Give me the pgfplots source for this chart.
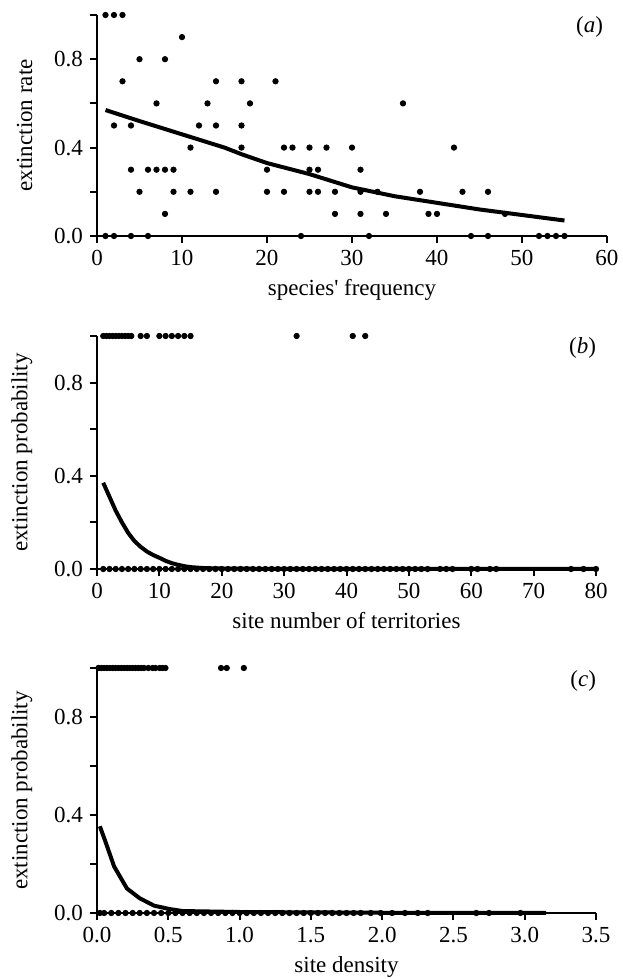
\documentclass[border=0pt]{standalone}
\usepackage{fontspec}
\setmainfont{Liberation Serif}
\usepackage{pgfplots}
\pgfplotsset{compat=1.18}

% shared look of the three panels
\pgfplotsset{
  panel/.style={
    scale only axis,
    anchor=south west,
    axis lines=left,
    axis line style={-, line width=1pt},
    every tick/.style={line width=1pt, black},
    major tick length=3.5pt,
    tick align=outside,
    ymin=0, ymax=1,
    ytick={0,0.2,0.4,0.6,0.8,1},
    yticklabels={0.0,,0.4,,0.8,},
    /pgf/number format/assume math mode=true,
    clip=false,
    ylabel shift=4pt,
    tick label style={font=\fontsize{11.5}{13.8}\selectfont},
    label style={font=\fontsize{11.5}{13.8}\selectfont},
  },
  dots/.style={only marks, mark=*, mark size=1.35pt, black},
  fit/.style={no marks, line width=2pt, black},
}

\begin{document}
\begin{tikzpicture}[font=\fontsize{11.5}{13.8}\selectfont]
\useasboundingbox (0,0) rectangle (311pt,489.5pt);

% (a)
\begin{axis}[panel, at={(48.5pt,371.5pt)}, width=255pt, height=110.5pt,
  xmin=0, xmax=60, xtick={0,10,...,60},
  xlabel={species\textquotesingle\ frequency}, ylabel={extinction rate}]
\addplot[dots] coordinates {
(1,1)(2,1)(3,1)(10,0.9)(5,0.8)(8,0.8)(3,0.7)(14,0.7)(17,0.7)(21,0.7)
(7,0.6)(13,0.6)(18,0.6)(36,0.6)(2,0.5)(4,0.5)(12,0.5)(14,0.5)(17,0.5)
(11,0.4)(17,0.4)(22,0.4)(23,0.4)(25,0.4)(27,0.4)(30,0.4)(42,0.4)
(4,0.3)(6,0.3)(7,0.3)(8,0.3)(9,0.3)(20,0.3)(25,0.3)(26,0.3)(31,0.3)
(5,0.2)(9,0.2)(11,0.2)(14,0.2)(20,0.2)(22,0.2)(25,0.2)(26,0.2)(28,0.2)
(31,0.2)(33,0.2)(38,0.2)(43,0.2)(46,0.2)
(8,0.1)(28,0.1)(31,0.1)(34,0.1)(39,0.1)(40,0.1)(48,0.1)
(1,0)(2,0)(4,0)(6,0)(24,0)(32,0)(44,0)(46,0)(52,0)(53,0)(54,0)(55,0)};
\addplot[fit] coordinates {
(1,0.57)(5,0.52)(10,0.46)(15,0.40)(17,0.37)(20,0.33)(25,0.28)(30,0.22)
(35,0.18)(40,0.15)(45,0.12)(50,0.095)(55,0.07)};
\node[anchor=east] at (rel axis cs:1.006,0.946) {(\textit{a})};
\end{axis}

% (b)
\begin{axis}[panel, at={(48.5pt,205pt)}, width=249.5pt, height=116.5pt,
  xmin=0, xmax=80, xtick={0,10,...,80},
  xlabel={site number of territories}, ylabel={extinction probability}]
\addplot[dots] coordinates {
(1,1)(1.5,1)(2,1)(2.5,1)(3,1)(3.5,1)(4,1)(4.5,1)(5,1)(5.5,1)(7,1)(8,1)
(10,1)(11,1)(12,1)(13,1)(14,1)(15,1)(32,1)(41,1)(43,1)
(1,0)(2,0)(3,0)(4,0)(5,0)(6,0)(7,0)(8,0)(9,0)(10,0)(11,0)(12,0)(13,0)
(14,0)(15,0)(16,0)(17,0)(18,0)(19,0)(20,0)(21,0)(22,0)(23,0)(24,0)(25,0)
(26,0)(27,0)(28,0)(29,0)(30,0)(31,0)(32,0)(33,0)(34,0)(35,0)(36,0)(37,0)
(38,0)(39,0)(40,0)(41,0)(42,0)(43,0)(44,0)(45,0)(46,0)(47,0)(48,0)(49,0)
(50,0)(51,0)(52,0)(53,0)(55,0)(56,0)(57,0)(60,0)(61,0)(63,0)(64,0)
(76,0)(78,0)(80,0)};
\addplot[fit] coordinates {
(1,0.37)(2,0.31)(3,0.25)(4,0.20)(5,0.155)(6,0.12)(7,0.095)(8,0.075)
(9,0.06)(10,0.048)(11,0.035)(12,0.025)(13,0.018)(14,0.012)(15,0.008)
(17,0.004)(20,0.002)(30,0)(80,0)};
\node[anchor=east] at (rel axis cs:1.014,0.948) {(\textit{b})};
\end{axis}

% (c)
\begin{axis}[panel, at={(48.5pt,33pt)}, width=249.5pt, height=122.5pt,
  xmin=0, xmax=3.5, xtick={0,0.5,...,3.5},
  xticklabel style={/pgf/number format/.cd, fixed, zerofill, precision=1},
  xlabel={site density}, ylabel={extinction probability}]
\addplot[dots] coordinates {
(0.01,1)(0.03,1)(0.05,1)(0.07,1)(0.09,1)(0.11,1)(0.13,1)(0.15,1)(0.17,1)
(0.19,1)(0.21,1)(0.23,1)(0.25,1)(0.27,1)(0.29,1)(0.31,1)(0.33,1)
(0.36,1)(0.39,1)(0.41,1)(0.44,1)(0.46,1)(0.48,1)(0.87,1)(0.91,1)(1.03,1)
(0.02,0)(0.05,0)(0.1,0)(0.15,0)(0.2,0)(0.25,0)(0.3,0)(0.35,0)(0.4,0)
(0.45,0)(0.5,0)(0.55,0)(0.6,0)(0.65,0)(0.7,0)(0.75,0)(0.8,0)(0.85,0)
(0.9,0)(0.95,0)(1,0)(1.05,0)(1.1,0)(1.15,0)(1.2,0)(1.25,0)(1.3,0)
(1.35,0)(1.4,0)(1.45,0)(1.5,0)(1.55,0)(1.6,0)(1.65,0)(1.7,0)(1.75,0)
(1.8,0)(1.85,0)(1.92,0)(1.99,0)(2.07,0)(2.16,0)(2.25,0)(2.32,0)
(2.66,0)(2.75,0)(2.97,0)};
\addplot[fit] coordinates {
(0.02,0.354)(0.06,0.29)(0.12,0.19)(0.21,0.10)(0.30,0.06)(0.40,0.03)
(0.51,0.016)(0.6,0.008)(1.0,0.004)(2.0,0.001)(3.15,0)};
\node[anchor=east] at (rel axis cs:1.014,0.947) {(\textit{c})};
\end{axis}
\end{tikzpicture}
\end{document}
